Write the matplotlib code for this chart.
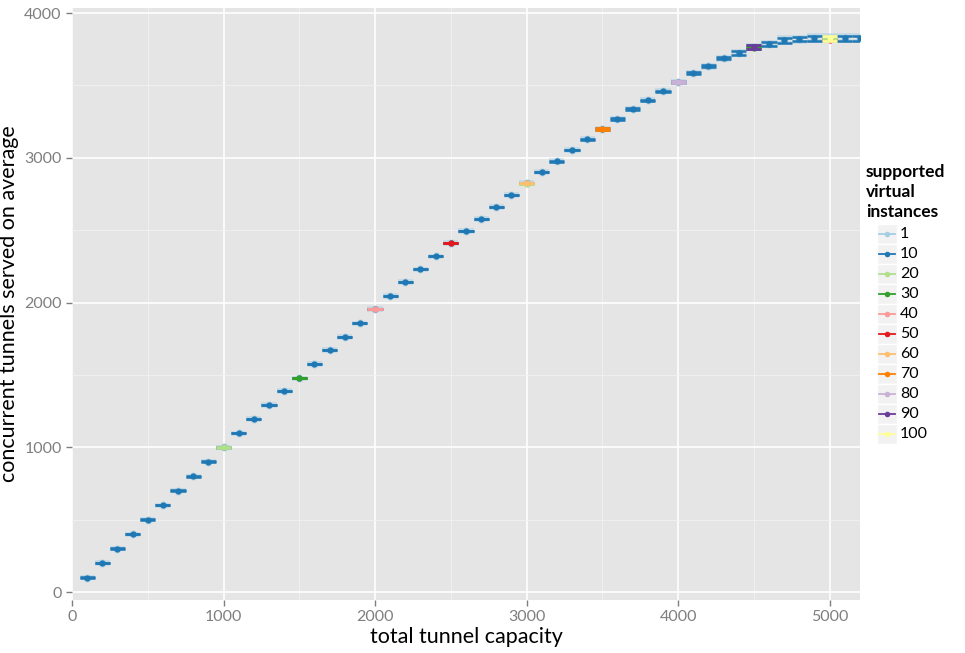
import matplotlib
matplotlib.use("Agg")
import matplotlib.pyplot as plt
from matplotlib.lines import Line2D
from matplotlib.patches import Rectangle
import numpy as np

plt.rcParams['font.family'] = ['Lato', 'DejaVu Sans']

# capacity steps and average served tunnels
capacity = list(range(100, 5300, 100))
served = [100, 200, 300, 400, 500, 600, 700, 800, 900, 1000,
          1098, 1195, 1292, 1389, 1478, 1575, 1672, 1762, 1858, 1955,
          2045, 2142, 2231, 2321, 2411, 2494, 2577, 2660, 2743, 2826,
          2902, 2977, 3054, 3129, 3199, 3268, 3337, 3399, 3461, 3523,
          3586, 3634, 3689, 3724, 3765, 3786, 3813, 3820, 3827, 3827,
          3827, 3827]
spread = [2, 2, 2, 2, 2, 2, 2, 2, 2, 2,
          2, 2, 2, 2, 2, 2, 2, 2, 2, 2,
          2, 2, 2, 2, 2, 2, 2, 2, 2, 3,
          3, 3, 3, 3, 4, 4, 4, 4, 4, 5,
          6, 8, 9, 11, 12, 12, 17, 15, 17, 17,
          18, 18]

# instance counts that show on top at every 500 step
hl_caps = [1000, 1500, 2000, 2500, 3000, 3500, 4000, 4500, 5000]
hl_series = ['20', '30', '40', '50', '60', '70', '80', '90', '100']

labels = ['1', '10', '20', '30', '40', '50', '60', '70', '80', '90', '100']
colors = ['#A6CEE3', '#1F78B4', '#B2DF8A', '#33A02C', '#FB9A99', '#E31A1C',
          '#FDBF6F', '#FF7F00', '#CAB2D6', '#6A3D9A', '#FFFF99']
col = dict(zip(labels, colors))

fig = plt.figure(figsize=(9.65, 6.53), dpi=100)
ax = fig.add_axes([0.0746, 0.0812, 0.8165, 0.9065])
ax.set_facecolor('#E5E5E5')

def draw(x, y, e, c, lw=1.8, ms=4.5, z=3, alpha=1.0):
    x = np.asarray(x); y = np.asarray(y); e = np.asarray(e)
    ax.hlines(y - e, x - 50, x + 50, colors=c, lw=lw, zorder=z, alpha=alpha)
    ax.hlines(y + e, x - 50, x + 50, colors=c, lw=lw, zorder=z, alpha=alpha)
    ax.vlines(x, y - e, y + e, colors=c, lw=lw, zorder=z, alpha=alpha)
    ax.plot(x, y, 'o', color=c, ms=ms, zorder=z + 0.5, alpha=alpha, mec='none')

# light halo of the single-instance series underneath
draw(capacity, served, np.array(spread) + 2, col['1'], lw=2.6, ms=6, z=2, alpha=0.55)
draw(capacity, served, spread, col['10'], z=3)

for c, s in zip(hl_caps, hl_series):
    i = capacity.index(c)
    if s == '60':
        draw([c], [served[i] - 6], [1], col['20'], lw=2.0, z=4)
    if s == '90':
        draw([c], [served[i] - 4], [3], col['30'], lw=2.4, z=4)
    if s == '100':
        draw([c], [served[i] - 12], [3], col['50'], lw=2.0, z=4)
        draw([c], [served[i] - 2], [6], col['20'], lw=2.0, z=4.2)
    draw([c], [served[i]], [spread[i]], col[s], lw=2.0, ms=4.5, z=5)

ax.set_xlim(0, 5200)
ax.set_ylim(-55, 4035)
ax.set_xticks([0, 1000, 2000, 3000, 4000, 5000])
ax.set_yticks([0, 1000, 2000, 3000, 4000])
ax.set_xticks([500, 1500, 2500, 3500, 4500], minor=True)
ax.set_yticks([500, 1500, 2500, 3500], minor=True)
ax.grid(which='major', color='white', lw=1.2, zorder=0)
ax.grid(which='minor', color='#F2F2F2', lw=0.6, zorder=0)
ax.set_axisbelow(True)
for sp in ax.spines.values():
    sp.set_visible(False)
ax.tick_params(which='major', colors='#7F7F7F', length=4, width=1, labelsize=11.5)
ax.tick_params(which='minor', length=0)

ax.set_xlabel('total tunnel capacity', fontsize=15.5, labelpad=2)
ax.set_ylabel('concurrent tunnels served on average', fontsize=15.5, labelpad=4)

# legend drawn by hand to mimic the ggplot guide
fig.text(866 / 965, 1 - 164 / 653, 'supported\nvirtual\ninstances', fontsize=12.5,
         fontweight='bold', va='top', ha='left', linespacing=1.3)
for k, (lab, c) in enumerate(zip(labels, colors)):
    yc = 234 + 20 * k
    x0, x1 = 877, 897
    fig.patches.append(Rectangle((x0 / 965, 1 - (yc + 10) / 653), (x1 - x0) / 965, 20 / 653,
                                 transform=fig.transFigure, facecolor='#F2F2F2',
                                 edgecolor='white', lw=1))
    fig.lines.append(Line2D([(x0 + 2) / 965, (x1 - 2) / 965], [1 - yc / 653] * 2,
                            transform=fig.transFigure, color=c, lw=1.3))
    fig.lines.append(Line2D([(x0 + x1) / 2 / 965], [1 - yc / 653], marker='o', ms=4,
                            transform=fig.transFigure, color=c, mec='none'))
    fig.text(900 / 965, 1 - yc / 653, lab, fontsize=11.5, va='center', ha='left')

fig.savefig('out.png', dpi=100, facecolor='white')
